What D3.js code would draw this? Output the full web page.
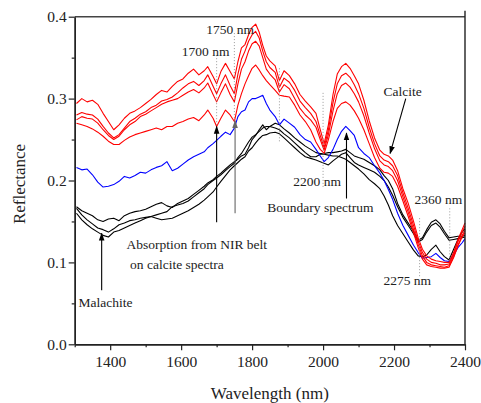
<!DOCTYPE html>
<html>
<head>
<meta charset="utf-8">
<script src="https://cdn.jsdelivr.net/npm/d3@7"></script>
<style>
  body { margin: 0; background: #fff; }
  text { font-family: "Liberation Serif", "Times New Roman", serif; fill: #222; }
</style>
</head>
<body>
<svg id="chart" width="481" height="403"></svg>
<script>
var wavelengths = [1305,1320,1335,1350,1365,1380,1395,1410,1425,1440,1455,1470,1485,1500,1515,1530,1545,1560,1575,1590,
  1605,1620,1635,1650,1665,1675,1690,1700,1712,1725,1738,1750,1760,1770,1780,1790,1800,1810,1820,1830,
  1840,1850,1865,1877,1890,1905,1920,1935,1950,1965,1980,1992,2003,2015,2028,2040,2052,2064,2076,2088,
  2100,2115,2130,2145,2160,2172,2184,2196,2210,2225,2240,2255,2268,2280,2292,2305,2318,2330,2342,2355,
  2368,2380,2392,2400];

// calcite spectra (red)
var calciteA = [0.294,0.300,0.296,0.298,0.293,0.282,0.272,0.262,0.268,0.276,0.282,0.285,0.289,0.294,0.299,0.305,0.310,0.308,0.315,0.321,
  0.324,0.331,0.336,0.329,0.334,0.339,0.327,0.318,0.333,0.343,0.333,0.324,0.345,0.362,0.366,0.378,0.387,0.391,0.381,0.365,
  0.352,0.346,0.340,0.322,0.334,0.328,0.318,0.305,0.297,0.290,0.282,0.262,0.245,0.268,0.305,0.330,0.339,0.343,0.337,0.328,
  0.318,0.298,0.273,0.252,0.237,0.232,0.230,0.225,0.212,0.190,0.172,0.150,0.130,0.116,0.108,0.104,0.102,0.101,0.100,0.100,
  0.112,0.128,0.140,0.148];
var calciteB = [0.280,0.283,0.281,0.280,0.275,0.266,0.258,0.252,0.256,0.264,0.272,0.276,0.281,0.284,0.289,0.292,0.297,0.299,0.302,0.307,
  0.313,0.318,0.321,0.316,0.322,0.329,0.315,0.306,0.318,0.329,0.316,0.306,0.330,0.348,0.358,0.370,0.378,0.382,0.374,0.358,
  0.345,0.338,0.332,0.314,0.325,0.320,0.310,0.297,0.289,0.282,0.272,0.255,0.240,0.262,0.295,0.318,0.328,0.331,0.326,0.317,
  0.306,0.288,0.265,0.245,0.230,0.225,0.223,0.218,0.206,0.185,0.166,0.145,0.126,0.112,0.104,0.100,0.099,0.097,0.097,0.098,
  0.110,0.125,0.137,0.144];
var calciteC = [0.274,0.278,0.276,0.275,0.270,0.262,0.255,0.250,0.254,0.262,0.268,0.272,0.278,0.281,0.285,0.289,0.293,0.296,0.298,0.300,
  0.304,0.308,0.311,0.307,0.313,0.319,0.305,0.296,0.307,0.318,0.305,0.296,0.318,0.336,0.345,0.358,0.367,0.370,0.364,0.350,
  0.336,0.330,0.323,0.308,0.317,0.312,0.300,0.288,0.280,0.274,0.265,0.250,0.237,0.256,0.285,0.306,0.316,0.319,0.314,0.306,
  0.296,0.279,0.258,0.239,0.224,0.219,0.217,0.212,0.200,0.180,0.161,0.140,0.122,0.108,0.100,0.097,0.096,0.095,0.094,0.096,
  0.107,0.121,0.133,0.139];
var calciteD = [0.270,0.268,0.266,0.263,0.259,0.254,0.248,0.244,0.244,0.249,0.253,0.256,0.258,0.260,0.262,0.264,0.262,0.266,0.266,0.270,
  0.272,0.275,0.277,0.273,0.280,0.286,0.276,0.266,0.276,0.286,0.280,0.272,0.292,0.306,0.318,0.328,0.337,0.341,0.335,0.328,
  0.322,0.317,0.310,0.304,0.303,0.302,0.292,0.280,0.272,0.262,0.247,0.238,0.233,0.250,0.272,0.288,0.294,0.296,0.292,0.285,
  0.276,0.262,0.245,0.228,0.215,0.210,0.209,0.205,0.193,0.175,0.156,0.136,0.118,0.104,0.097,0.095,0.094,0.093,0.093,0.094,
  0.106,0.120,0.131,0.136];

// boundary spectrum (blue)
var boundary = [0.216,0.213,0.214,0.207,0.198,0.192,0.193,0.195,0.199,0.205,0.203,0.206,0.210,0.209,0.213,0.216,0.218,0.223,0.212,0.215,
  0.220,0.225,0.229,0.232,0.235,0.240,0.245,0.249,0.254,0.259,0.256,0.264,0.278,0.284,0.286,0.296,0.300,0.300,0.302,0.304,
  0.294,0.286,0.278,0.268,0.275,0.270,0.265,0.256,0.250,0.247,0.238,0.230,0.223,0.228,0.238,0.250,0.260,0.266,0.261,0.255,
  0.240,0.233,0.228,0.218,0.209,0.200,0.189,0.177,0.160,0.145,0.133,0.121,0.112,0.105,0.106,0.107,0.111,0.106,0.102,0.101,
  0.109,0.118,0.124,0.129];

// malachite spectra (black)
var malachiteA = [0.168,0.163,0.160,0.157,0.152,0.150,0.153,0.154,0.151,0.157,0.160,0.162,0.163,0.165,0.168,0.171,0.173,0.169,0.167,0.172,
  0.175,0.178,0.183,0.188,0.193,0.197,0.201,0.205,0.209,0.214,0.219,0.223,0.226,0.230,0.232,0.240,0.250,0.255,0.262,0.268,
  0.262,0.266,0.270,0.268,0.263,0.258,0.252,0.247,0.242,0.238,0.234,0.233,0.233,0.234,0.234,0.235,0.236,0.238,0.234,0.230,
  0.228,0.226,0.222,0.218,0.213,0.206,0.200,0.190,0.172,0.158,0.148,0.138,0.127,0.130,0.140,0.149,0.152,0.147,0.138,0.130,
  0.131,0.132,0.132,0.133];
var malachiteB = [0.166,0.158,0.152,0.147,0.142,0.140,0.137,0.141,0.146,0.148,0.151,0.152,0.154,0.155,0.156,0.154,0.152,0.153,0.154,0.157,
  0.160,0.163,0.167,0.171,0.176,0.180,0.186,0.192,0.199,0.206,0.213,0.218,0.222,0.226,0.229,0.236,0.240,0.246,0.251,0.255,
  0.256,0.258,0.259,0.257,0.252,0.246,0.240,0.234,0.229,0.227,0.225,0.223,0.221,0.219,0.224,0.228,0.232,0.234,0.228,0.222,
  0.219,0.216,0.213,0.210,0.205,0.200,0.192,0.182,0.168,0.155,0.145,0.135,0.125,0.128,0.137,0.145,0.148,0.143,0.135,0.127,
  0.128,0.129,0.130,0.131];
var malachiteC = [0.160,0.152,0.146,0.141,0.137,0.133,0.131,0.137,0.139,0.142,0.145,0.148,0.151,0.154,0.156,0.158,0.160,0.162,0.168,0.170,
  0.172,0.175,0.180,0.185,0.190,0.195,0.200,0.203,0.207,0.212,0.217,0.221,0.228,0.233,0.240,0.247,0.253,0.256,0.260,0.264,
  0.266,0.266,0.264,0.262,0.257,0.252,0.246,0.240,0.234,0.229,0.229,0.232,0.232,0.231,0.230,0.230,0.228,0.226,0.222,0.218,
  0.214,0.208,0.201,0.196,0.190,0.181,0.170,0.157,0.145,0.135,0.125,0.115,0.108,0.107,0.109,0.116,0.121,0.113,0.107,0.103,
  0.116,0.128,0.137,0.141];

var xMajor = [1400,1600,1800,2000,2200,2400];
var xMinor = [1300,1500,1700,1900,2100,2300];
var yMajor = [0.0,0.1,0.2,0.3,0.4];
var yMinor = [0.05,0.15,0.25,0.35];

// annotation text: [label, nm, reflectance at baseline]
var labels = [
  ["1700 nm", 1602, 0.352],
  ["1750 nm", 1671, 0.379],
  ["2200 nm", 1916, 0.193],
  ["Boundary spectrum", 1843, 0.1615],
  ["Calcite", 2170, 0.3026],
  ["2360 nm", 2258, 0.171],
  ["2275 nm", 2170, 0.073],
  ["Absorption from NIR belt", 1446, 0.1164],
  ["on calcite spectra", 1456, 0.092],
  ["Malachite", 1311, 0.0455]
];
// dotted markers: [nm, top, bottom]
var dotted = [[1700,0.353,0.265],[1750,0.380,0.273],[1877,0.337,0.246],[2000,0.307,0.192],[2272,0.154,0.081],[2357,0.166,0.100]];
// arrows: [nm from, value from, nm to, value to, colour]
var arrows = [
  [1700,0.149,1700,0.266,"#000"],
  [1752,0.160,1752,0.273,"#666"],
  [2066,0.178,2066,0.258,"#000"],
  [1376,0.066,1376,0.1355,"#000"],
  [2233,0.300,2189,0.233,"#000"]
];

var svg = d3.select("#chart"),
  plotLeft = 74.7, plotRight = 465, plotTop = 16.7, plotBottom = 344.3;

var x = d3.scaleLinear().domain([1300, 2400]).range([plotLeft, plotRight]);
var y = d3.scaleLinear().domain([0, 0.4]).range([plotBottom, plotTop]);

var series = [
  {v: malachiteA, c: "#000"},
  {v: malachiteB, c: "#000"},
  {v: malachiteC, c: "#000"},
  {v: boundary, c: "#0000ff"},
  {v: calciteD, c: "#ff0000"},
  {v: calciteC, c: "#ff0000"},
  {v: calciteB, c: "#ff0000"},
  {v: calciteA, c: "#ff0000"}
];

var line = d3.line()
  .x(function(d, i) { return x(wavelengths[i]); })
  .y(function(d) { return y(d); });

svg.append("g").selectAll("path").data(series).enter().append("path")
  .attr("d", function(d) { return line(d.v); })
  .attr("fill", "none")
  .attr("stroke", function(d) { return d.c; })
  .attr("stroke-width", 1.1)
  .attr("stroke-linejoin", "round");

// dotted guides
svg.append("g").selectAll("line").data(dotted).enter().append("line")
  .attr("x1", function(d) { return x(d[0]); })
  .attr("x2", function(d) { return x(d[0]); })
  .attr("y1", function(d) { return y(d[1]); })
  .attr("y2", function(d) { return y(d[2]); })
  .attr("stroke", "#999")
  .attr("stroke-width", 1)
  .attr("stroke-dasharray", "1,2");

// arrows
var defs = svg.append("defs");
["#000", "#666"].forEach(function(c, i) {
  defs.append("marker").attr("id", "head" + i)
    .attr("viewBox", "0 0 10 10").attr("refX", 9).attr("refY", 5)
    .attr("markerWidth", 8).attr("markerHeight", 8)
    .attr("markerUnits", "userSpaceOnUse")
    .attr("orient", "auto")
    .append("path").attr("d", "M0,1.5L10,5L0,8.5Z").attr("fill", c);
});

svg.append("g").selectAll("line").data(arrows).enter().append("line")
  .attr("x1", function(d) { return x(d[0]); })
  .attr("y1", function(d) { return y(d[1]); })
  .attr("x2", function(d) { return x(d[2]); })
  .attr("y2", function(d) { return y(d[3]); })
  .attr("stroke", function(d) { return d[4]; })
  .attr("stroke-width", 1.1)
  .attr("marker-end", function(d) { return d[4] == "#000" ? "url(#head0)" : "url(#head1)"; });

svg.append("g").selectAll("text").data(labels).enter().append("text")
  .attr("x", function(d) { return x(d[1]); })
  .attr("y", function(d) { return y(d[2]); })
  .attr("font-size", "13.5px")
  .text(function(d) { return d[0]; });

// axes
svg.append("g").attr("transform", "translate(0," + plotBottom + ")")
  .call(d3.axisBottom(x).tickValues(xMajor).tickFormat(d3.format("d")).tickSize(6).tickSizeOuter(0).tickPadding(6));
svg.append("g").attr("transform", "translate(0," + plotBottom + ")")
  .call(d3.axisBottom(x).tickValues(xMinor).tickFormat("").tickSize(3).tickSizeOuter(0));
svg.append("g").attr("transform", "translate(" + plotLeft + ",0)")
  .call(d3.axisLeft(y).tickValues(yMajor).tickFormat(d3.format(".1f")).tickSize(6).tickSizeOuter(0).tickPadding(2));
svg.append("g").attr("transform", "translate(" + plotLeft + ",0)")
  .call(d3.axisLeft(y).tickValues(yMinor).tickFormat("").tickSize(3).tickSizeOuter(0));

svg.selectAll(".domain").attr("stroke", "#222").attr("stroke-width", 1.4);
svg.selectAll(".tick line").attr("stroke", "#222").attr("stroke-width", 1.2);
svg.selectAll(".tick text").attr("font-family", "Liberation Serif, serif").attr("font-size", "15.5px").attr("fill", "#222");

// frame top and right
svg.append("line").attr("x1", plotLeft).attr("x2", plotRight).attr("y1", plotTop).attr("y2", plotTop)
  .attr("stroke", "#444").attr("stroke-width", 1.4);
svg.append("line").attr("x1", plotRight).attr("x2", plotRight).attr("y1", plotTop - 6).attr("y2", plotBottom)
  .attr("stroke", "#222").attr("stroke-width", 1.4);

// axis titles
svg.append("text").attr("x", (plotLeft + plotRight) / 2).attr("y", 399)
  .attr("text-anchor", "middle").attr("font-size", "17px").text("Wavelength (nm)");
svg.append("text").attr("transform", "translate(25,184) rotate(-90)")
  .attr("text-anchor", "middle").attr("font-size", "17px").text("Reflectance");
</script>
</body>
</html>
